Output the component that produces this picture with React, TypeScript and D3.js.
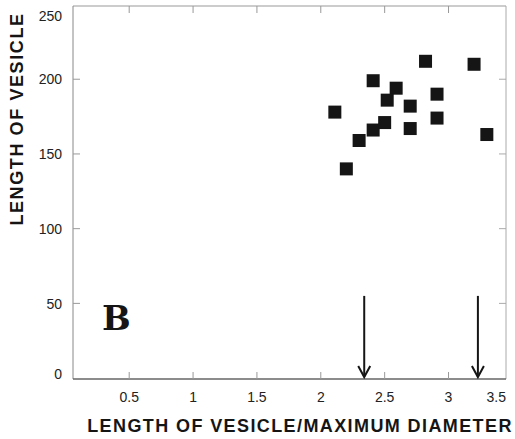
import React from "react";
import * as d3 from "d3";

const xTicks = [0.5, 1, 1.5, 2, 2.5, 3, 3.5];
const yTicks = [0, 50, 100, 150, 200, 250];
const ratioValues = [2.82, 3.2, 2.41, 2.59, 2.91, 2.52, 2.7, 2.11, 2.91, 2.5, 2.7, 2.41, 3.3, 2.3, 2.2];
const lengthValues = [212, 210, 199, 194, 190, 186, 182, 178, 174, 171, 167, 166, 163, 159, 140];
const arrowPositions = [2.34, 3.23];
const arrowTop = 55;
const xTitle = "LENGTH OF VESICLE/MAXIMUM DIAMETER";
const yTitle = "LENGTH OF VESICLE";
const panelLabel = "B";

const W = 515;
const H = 439;
const M = { left: 73, right: 9, top: 6, bottom: 60 };

export default function App() {
  const x = d3.scaleLinear().domain([0.06, 3.45]).range([M.left, W - M.right]);
  const y = d3.scaleLinear().domain([-0.6, 249]).range([H - M.bottom, M.top]);
  const [x0, x1] = x.range();
  const [y0, y1] = y.range();
  const sans = "'Liberation Sans', Arial, Helvetica, sans-serif";
  const axisColor = "#666";
  const tickLen = 7;
  const inX = (v: number) => v >= x.domain()[0] && v <= x.domain()[1];
  const inY = (v: number) => v > y.domain()[0] + 1 && v < y.domain()[1];
  const sq = 13;

  return (
    <svg width={W} height={H} style={{ position: "absolute", left: 0, top: 0, display: "block", background: "#fff" }}>
      {/* frame */}
      <line x1={x0} x2={x1} y1={y1} y2={y1} stroke="#999" strokeWidth={1} />
      <line x1={x1} x2={x1} y1={y1} y2={y0} stroke="#aaa" strokeWidth={1} />
      <line x1={x0} x2={x0} y1={y1} y2={y0} stroke="#888" strokeWidth={1} />
      <line x1={x0} x2={x1} y1={y0} y2={y0} stroke={axisColor} strokeWidth={1.3} />

      {/* x ticks */}
      {xTicks.filter(inX).map((t) => (
        <g key={"xt" + t}>
          <line x1={x(t)} x2={x(t)} y1={y0} y2={y0 - tickLen} stroke="#999" />
          <line x1={x(t)} x2={x(t)} y1={y1} y2={y1 + tickLen} stroke="#999" />
        </g>
      ))}
      {/* y ticks */}
      {yTicks.filter(inY).map((t) => (
        <g key={"yt" + t}>
          <line x1={x0} x2={x0 + tickLen} y1={y(t)} y2={y(t)} stroke="#999" />
          <line x1={x1} x2={x1 - tickLen} y1={y(t)} y2={y(t)} stroke="#aaa" />
        </g>
      ))}

      {/* x tick labels */}
      {xTicks.map((t) => {
        const over = x(t) > x1;
        return (
          <text
            key={"xl" + t}
            x={over ? x1 : x(t)}
            y={y0 + 19}
            textAnchor={over ? "end" : "middle"}
            dominantBaseline="middle"
            fontFamily={sans}
            fontSize={14}
            fill="#222"
          >
            {t}
          </text>
        );
      })}
      {/* y tick labels */}
      {yTicks.map((t) => (
        <text
          key={"yl" + t}
          x={x0 - 11}
          y={Math.min(Math.max(y(t) + 1.5, 17), 375)}
          textAnchor="end"
          dominantBaseline="middle"
          fontFamily={sans}
          fontSize={14}
          fill="#222"
        >
          {t}
        </text>
      ))}

      {/* data squares */}
      {ratioValues.map((v, i) => (
        <rect
          key={"p" + i}
          x={x(v) - sq / 2}
          y={y(lengthValues[i]) - sq / 2}
          width={sq}
          height={sq}
          fill="#151515"
        />
      ))}

      {/* arrows */}
      {arrowPositions.map((a, i) => {
        const ax = x(a);
        const top = y(arrowTop);
        const bot = y(0) - 1;
        return (
          <g key={"ar" + i} stroke="#151515" strokeWidth={2} fill="none">
            <line x1={ax} x2={ax} y1={top} y2={bot} />
            <path d={`M${ax - 6},${bot - 11} L${ax},${bot} L${ax + 6},${bot - 11}`} />
          </g>
        );
      })}

      {/* panel label */}
      <text x={102} y={330} fontFamily="'DejaVu Serif', serif" fontWeight="bold" fontSize={34} fill="#151515">
        {panelLabel}
      </text>

      {/* axis titles */}
      <text
        x={(87 + 513) / 2}
        y={427}
        textAnchor="middle"
        dominantBaseline="middle"
        fontFamily={sans}
        fontWeight="bold"
        fontSize={18}
        letterSpacing={1.4}
        fill="#151515"
      >
        {xTitle}
      </text>
      <text
        transform={`translate(18,119) rotate(-90)`}
        textAnchor="middle"
        dominantBaseline="middle"
        fontFamily={sans}
        fontWeight="bold"
        fontSize={18}
        letterSpacing={1.6}
        fill="#151515"
      >
        {yTitle}
      </text>
    </svg>
  );
}
